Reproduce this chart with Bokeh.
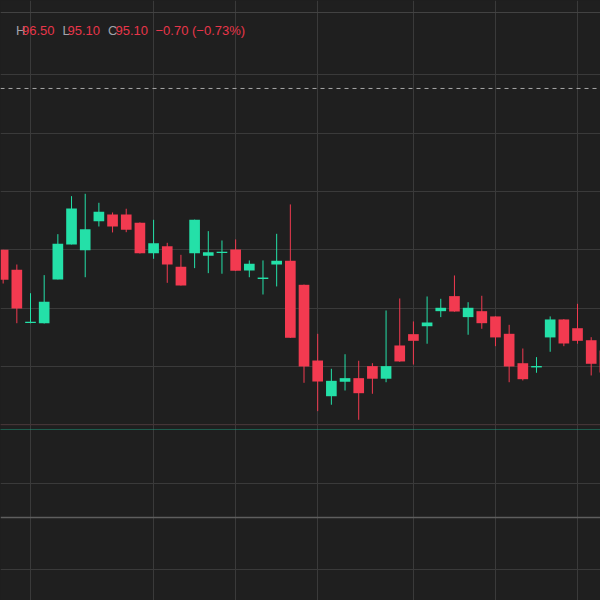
from bokeh.plotting import figure
from bokeh.models import (Range1d, Grid, FixedTicker, Span, Label, ColumnDataSource,
                          GlobalInlineStyleSheet)
from bokeh.embed import file_html
from bokeh.resources import INLINE

# ---- data ----
idx = list(range(45))
opens = [96.000, 95.829, 95.372, 95.371, 95.746, 96.046, 95.997, 96.245, 96.303, 96.303,
         96.232, 95.971, 96.031, 95.855, 95.971, 95.949, 95.972, 96.003, 95.823, 95.750,
         95.874, 95.906, 95.700, 95.051, 94.745, 94.869, 94.900, 95.003, 94.895, 95.180,
         95.277, 95.345, 95.474, 95.603, 95.423, 95.474, 95.429, 95.280, 95.028, 94.992,
         95.249, 95.403, 95.328, 95.225, 95.137]
highs = [96.000, 95.874, 95.628, 95.783, 96.134, 96.460, 96.480, 96.403, 96.320, 96.352,
         96.235, 96.257, 96.060, 95.957, 96.259, 96.160, 96.080, 96.089, 95.909, 95.909,
         96.137, 96.389, 95.702, 95.280, 94.980, 95.105, 95.049, 95.028, 95.480, 95.583,
         95.386, 95.600, 95.580, 95.780, 95.551, 95.606, 95.431, 95.357, 95.154, 95.080,
         95.429, 95.406, 95.537, 95.251, 95.160]
lows = [95.711, 95.371, 95.370, 95.368, 95.746, 96.046, 95.765, 96.200, 96.149, 96.151,
        95.968, 95.923, 95.717, 95.694, 95.843, 95.800, 95.795, 95.818, 95.765, 95.617,
        95.686, 95.244, 94.860, 94.617, 94.672, 94.794, 94.543, 94.766, 94.865, 95.040,
        95.017, 95.195, 95.423, 95.469, 95.272, 95.323, 95.174, 94.865, 94.880, 94.946,
        95.126, 95.174, 95.195, 94.923, 94.930]
closes = [95.743, 95.497, 95.384, 95.555, 96.052, 96.354, 96.177, 96.326, 96.200, 96.172,
          95.971, 96.057, 95.874, 95.694, 96.257, 95.980, 95.984, 95.820, 95.880, 95.762,
          95.906, 95.246, 95.000, 94.871, 94.877, 94.900, 94.771, 94.895, 95.003, 95.043,
          95.220, 95.377, 95.503, 95.471, 95.503, 95.371, 95.249, 95.000, 94.891, 95.004,
          95.403, 95.197, 95.220, 95.023, 94.949]

time_grid_idx = [2, 11, 17, 23, 30, 36, 42]
price_grid = [94.0, 94.5, 95.0, 95.5, 96.0, 96.5, 97.0, 97.5]
pane_top_level = 98.034
dashed_level = 97.383
red_dotted_level = 94.5
teal_dotted_level = 94.46
pane_separator_level = 93.706
lower_pane_grid = [93.26]

header_high = "96.50"
header_low = "95.10"
header_close = "95.10"
header_change = "\u22120.70 (\u22120.73%)"

# ---- styles ----
BG = "#1f1f1f"
GRID = "#3a3a3a"
UP = "#24e0a8"
DOWN = "#f23a50"
TXT_GRAY = "#a0a3ab"
TXT_RED = "#e8364a"

colors = [UP if c >= o else DOWN for o, c in zip(opens, closes)]
src = ColumnDataSource(dict(
    x=idx,
    top=[max(o, c) for o, c in zip(opens, closes)],
    bottom=[min(o, c) for o, c in zip(opens, closes)],
    high=highs, low=lows, color=colors))

p = figure(width=600, height=600, output_backend="svg", toolbar_location=None,
           x_axis_location=None, y_axis_location=None, min_border=0,
           x_range=Range1d(-0.194, 43.68), y_range=Range1d(92.994, 98.137),
           background_fill_color=BG, border_fill_color=BG, outline_line_color=None)
p.grid.visible = False

p.add_layout(Grid(dimension=0, ticker=FixedTicker(ticks=time_grid_idx),
                  grid_line_color=GRID, grid_line_width=1))
p.add_layout(Grid(dimension=1, ticker=FixedTicker(ticks=price_grid + lower_pane_grid),
                  grid_line_color=GRID, grid_line_width=1))

p.add_layout(Span(location=pane_top_level, dimension="width", line_color="#444444", line_width=1))
p.add_layout(Span(location=pane_separator_level, dimension="width", line_color="#5e5e5e", line_width=1.5))
p.add_layout(Span(location=dashed_level, dimension="width", line_color="#a8a8a8",
                  line_width=1, line_dash="4 4"))
p.add_layout(Span(location=red_dotted_level, dimension="width", line_color="#5a3036",
                  line_width=1, line_dash="1 1"))
p.add_layout(Span(location=teal_dotted_level, dimension="width", line_color="#1f9c80",
                  line_width=1, line_dash="1 1"))

p.segment(x0="x", y0="high", x1="x", y1="low", source=src, line_color="color", line_width=1)
p.vbar(x="x", width=0.78, top="top", bottom="bottom", source=src,
       fill_color="color", line_color=None)

FONT = "Liberation Sans"
def lab(x, text, color, align="left"):
    p.add_layout(Label(x=x, y=570, x_units="screen", y_units="screen", text=text,
                       text_color=color, text_font=FONT, text_font_size="13px",
                       text_baseline="middle", text_align=align))

lab(15.5, "H", TXT_GRAY)
lab(21.5, header_high, TXT_RED)
lab(62, "L", TXT_GRAY)
lab(67, header_low, TXT_RED)
lab(107.5, "C", TXT_GRAY)
lab(115, header_close, TXT_RED)
lab(155, header_change, TXT_RED)

p.stylesheets = [GlobalInlineStyleSheet(css="html, body { background-color: #1f1f1f; }")]

open("out.html", "w").write(file_html(p, INLINE))
